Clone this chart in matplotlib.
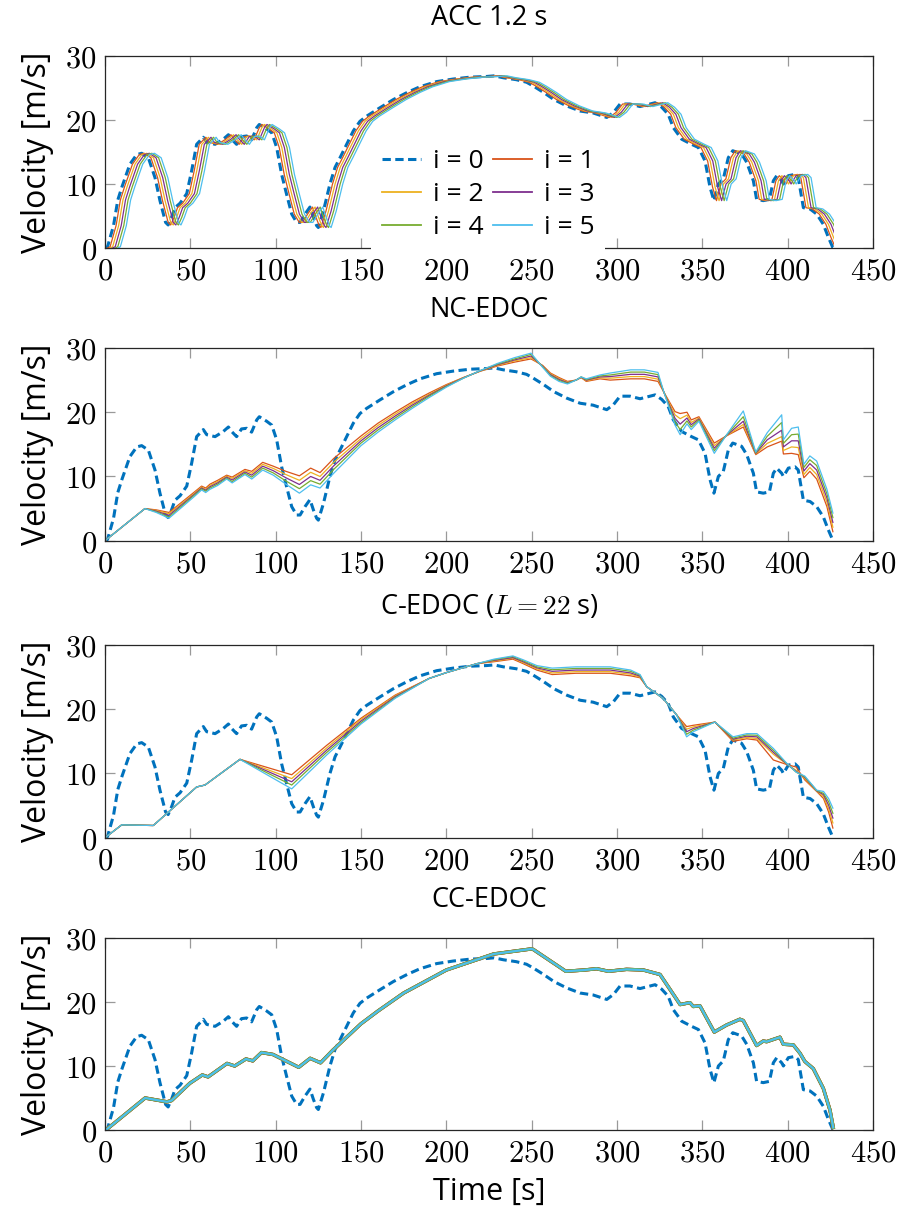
import numpy as np
import matplotlib
matplotlib.use("Agg")
import matplotlib.pyplot as plt
from matplotlib.ticker import FuncFormatter, MultipleLocator
from matplotlib.patches import Rectangle

plt.rcParams['font.family'] = ['Open Sans', 'DejaVu Sans']
plt.rcParams['mathtext.fontset'] = 'cm'
plt.rcParams['lines.scale_dashes'] = False

# ---------------- data ----------------
lead_t = [0, 1.5, 5, 7.5, 10, 14.6, 18.6, 21.5, 25.4, 29.3, 32.2, 35.5, 37, 39, 41, 44,
          47.9, 50.8, 53.7, 57.6, 59.6, 64.5, 69.3, 72.3, 74.2, 77.1, 80, 83, 85.9, 88.9,
          90.4, 94.7, 97.7, 100.6, 103.5, 106.4, 109.4, 112.3, 114.3, 117.2, 120.1, 122.1,
          124, 125, 128, 131.8, 134.8, 137.7, 141.6, 145.5, 149.4, 153.3, 161, 169, 177,
          184.6, 194.3, 204, 214, 223.6, 228, 233.4, 241, 247, 251, 257, 263, 270.5, 278.4,
          286, 294, 298, 301.8, 307.6, 313.5, 322.3, 326.2, 330, 333, 337.9, 343.7, 347.7,
          351.6, 354.5, 356.8, 359.4, 362.3, 365.2, 367.8, 373, 376, 379.9, 381.8, 385.7,
          389.3, 391.6, 393.6, 396.5, 397.5, 400.4, 404.3, 406.2, 409.2, 413.1, 417, 420.9,
          423.8, 426.4, 427]
lead_v = [0, 0.2, 3.5, 7.5, 9.6, 13.1, 14.6, 14.8, 14.1, 11.0, 7.4, 4.0, 3.6, 4.8, 6.3, 7.0,
          8.5, 12.1, 16.2, 17.3, 16.5, 16.2, 17.0, 17.7, 17.0, 16.2, 17.4, 17.5, 16.9, 18.8,
          19.3, 18.6, 18.0, 15.7, 11.5, 8.4, 5.3, 4.0, 4.0, 5.3, 6.4, 4.8,
          3.5, 3.2, 5.8, 10.0, 12.6, 14.1, 16.2, 18.3, 19.8, 20.6, 21.9, 23.2, 24.3,
          25.2, 26.0, 26.4, 26.7, 26.8, 26.9, 26.6, 26.3, 25.9, 25.3, 24.3, 23.2, 22.2, 21.4,
          21.1, 20.4, 21.2, 22.5, 22.5, 22.1, 22.7, 22.0, 20.9, 18.8, 17.0, 16.2, 15.7,
          13.6, 9.5, 7.4, 10.0, 10.8, 14.1, 15.2, 14.7, 13.4, 10.5, 7.6, 7.4,
          7.6, 10.5, 11.3, 10.5, 10.0, 11.3, 11.5, 11.0, 6.3, 6.1, 5.3, 3.7,
          1.7, 0.1, 0.0]

# ACC 1.2 s: followers trail the leader; lag of each follower [s]
acc_lag = [1.5, 3.0, 4.5, 6.0, 7.5]

# NC-EDOC followers
nc_t = [0, 23.4, 30, 37.5, 45, 52, 56.6, 59, 61.5, 66, 71.3, 74.5, 82, 86, 92.4, 98.6, 106,
        113.9, 120.5, 126, 134, 150, 160, 170, 180, 190, 200, 210, 220, 230, 240, 249.6,
        256.4, 261, 266, 271, 276, 279, 282, 290, 296, 308, 316, 324, 327.5, 334, 337, 341,
        343.5, 348, 357, 364, 374, 381.3, 388, 396.5, 397.5, 402.3, 406.2, 409.5, 413, 417,
        423, 426.5]
nc_v1 = [0, 5.0, 4.8, 4.4, 6.0, 7.5, 8.5, 8.2, 8.8, 9.4, 10.2, 9.9, 11.1, 10.8, 12.2, 11.6, 10.8,
         10.1, 11.3, 10.6, 12.8, 16.3, 18.3, 20.0, 21.6, 23.0, 24.3, 25.4, 26.4, 27.2, 27.8, 28.3,
         27.3, 26.1, 25.4, 24.8, 25.0, 25.4, 24.8, 25.2, 25.0, 25.2, 25.2, 24.8, 23.1, 20.1, 19.8, 20.0,
         18.8, 19.3, 15.2, 16.3, 17.7, 13.4, 14.6, 15.5, 13.5, 13.6, 13.4, 9.8, 10.8, 9.6,
         5.3, 1.4]
nc_v2 = [0, 5.0, 4.7, 4.2, 5.8, 7.3, 8.35, 8.0, 8.6, 9.2, 10.05, 9.7, 10.9, 10.5, 11.9, 11.25, 10.3,
         9.4, 10.65, 10.0, 12.2, 15.9, 17.95, 19.7, 21.35, 22.8, 24.2, 25.4, 26.4, 27.3, 28.0, 28.5,
         27.2, 26.0, 25.25, 24.7, 25.0, 25.4, 24.9, 25.35, 25.3, 25.55, 25.55, 25.15, 23.1, 19.6, 19.0, 19.55,
         18.4, 19.1, 14.8, 16.3, 18.1, 13.5, 15.15, 16.2, 14.05, 14.6, 14.5, 10.3, 11.4, 10.3,
         6.0, 2.1]
nc_v3 = [0, 5.0, 4.6, 3.95, 5.6, 7.15, 8.2, 7.85, 8.4, 9.0, 9.9, 9.45, 10.7, 10.2, 11.6, 10.9, 9.8,
         8.75, 10.0, 9.4, 11.65, 15.55, 17.6, 19.4, 21.1, 22.65, 24.1, 25.35, 26.45, 27.4, 28.15, 28.75,
         27.15, 25.85, 25.1, 24.6, 25.0, 25.45, 25.0, 25.5, 25.55, 25.9, 25.9, 25.5, 23.1, 19.05, 18.15, 19.1,
         18.05, 18.95, 14.4, 16.35, 18.6, 13.6, 15.7, 17.2, 14.6, 15.55, 15.55, 10.85, 12.0, 11.0,
         6.65, 2.85]
nc_v4 = [0, 5.0, 4.5, 3.7, 5.4, 7.0, 8.05, 7.7, 8.2, 8.8, 9.75, 9.2, 10.5, 9.9, 11.3, 10.55, 9.3,
         8.1, 9.35, 8.8, 11.1, 15.2, 17.25, 19.1, 20.85, 22.5, 24.0, 25.3, 26.5, 27.5, 28.3, 29.0,
         27.1, 25.7, 24.95, 24.5, 25.0, 25.5, 25.1, 25.65, 25.8, 26.25, 26.25, 25.85, 23.1, 18.5, 17.3, 18.65,
         17.7, 18.8, 14.0, 16.4, 19.3, 13.7, 16.25, 18.4, 15.15, 16.5, 16.6, 11.4, 12.6, 11.7,
         7.3, 3.6]
nc_v5 = [0, 5.0, 4.4, 3.5, 5.2, 6.8, 7.9, 7.5, 8.0, 8.6, 9.6, 9.0, 10.3, 9.6, 11.0, 10.2, 8.8,
         7.4, 8.7, 8.2, 10.5, 14.8, 16.9, 18.8, 20.6, 22.3, 23.9, 25.3, 26.5, 27.6, 28.5, 29.2,
         27.0, 25.6, 24.8, 24.4, 25.0, 25.5, 25.2, 25.8, 26.1, 26.6, 26.6, 26.2, 23.1, 18.0, 16.5, 18.2,
         17.3, 18.6, 13.6, 16.4, 20.2, 13.8, 16.8, 19.6, 15.7, 17.5, 17.7, 11.9, 13.2, 12.4,
         8.0, 4.3]

# C-EDOC (L = 22 s) followers
c_t = [0, 9.8, 28.3, 53.7, 58.6, 79.1, 109.4, 130, 150, 170, 190, 200, 218, 228, 239, 245, 253,
       262, 276, 296, 308, 313.5, 317.4, 327, 335, 340.8, 344.7, 357.4, 368, 376, 382, 391.6,
       399.4, 405, 410, 417, 421, 424, 426.5]
c_v1 = [0, 2.0, 1.9, 7.9, 8.2, 12.2, 9.8, 14.4, 18.6, 22.2, 24.8, 25.7, 27.1, 27.4, 27.8, 27.1, 26.1,
        25.4, 25.6, 25.6, 25.2, 24.9, 23.5, 21.7, 19.1, 17.3, 17.5, 18.0, 15.0, 15.4, 15.2, 12.1,
        11.4, 11.0, 9.0, 7.2, 6.1, 4.0, 1.5]
c_v2 = [0, 2.0, 1.9, 7.9, 8.2, 12.2, 9.2, 14.0, 18.4, 22.1, 24.8, 25.7, 27.1, 27.5, 27.95, 27.25, 26.3,
        25.65, 25.85, 25.85, 25.45, 25.0, 23.5, 21.7, 19.1, 16.9, 17.25, 18.0, 15.2, 15.6, 15.45, 13.0,
        11.45, 10.5, 9.2, 7.25, 6.4, 4.5, 2.3]
c_v3 = [0, 2.0, 1.9, 7.9, 8.2, 12.2, 8.7, 13.65, 18.15, 21.95, 24.8, 25.7, 27.1, 27.6, 28.05, 27.4, 26.45,
        25.9, 26.1, 26.1, 25.65, 25.15, 23.5, 21.7, 19.1, 16.5, 17.0, 18.0, 15.35, 15.8, 15.7, 13.3,
        11.5, 10.3, 9.4, 7.3, 6.7, 5.05, 3.05]
c_v4 = [0, 2.0, 1.9, 7.9, 8.2, 12.2, 8.2, 13.3, 17.9, 21.8, 24.8, 25.7, 27.1, 27.7, 28.2, 27.55, 26.6,
        26.15, 26.35, 26.35, 25.9, 25.3, 23.5, 21.7, 19.1, 16.1, 16.75, 18.0, 15.5, 16.0, 15.95, 13.6,
        11.55, 10.2, 9.5, 7.35, 6.9, 5.6, 3.8]
c_v5 = [0, 2.0, 1.9, 7.9, 8.2, 12.2, 7.6, 12.9, 17.7, 21.7, 24.8, 25.7, 27.1, 27.8, 28.3, 27.7, 26.8,
        26.4, 26.6, 26.6, 26.1, 25.4, 23.5, 21.7, 19.1, 15.7, 16.5, 18.0, 15.7, 16.2, 16.2, 13.9,
        11.6, 10.2, 9.6, 7.4, 7.2, 6.1, 4.6]

# CC-EDOC: all five followers coincide
cc_t = [0, 1, 23.5, 36.3, 39, 49.7, 57, 60.4, 71.5, 76, 82.6, 86.6, 91.7, 98.4, 113.5, 120.2,
        126.3, 133.6, 150, 160, 175, 200, 227.7, 250, 251, 270, 281, 288, 295, 305.6, 315.4,
        325.2, 337, 342.7, 344.7, 348.6, 357, 364.2, 372, 374, 381.8, 385.7, 387.7, 395.5,
        397.4, 403.3, 407.2, 410.1, 415, 420.9, 424.8, 426.7]
cc_v = [0, 0.1, 5.0, 4.4, 4.6, 7.3, 8.6, 8.3, 10.4, 10.0, 11.1, 10.8, 12.1, 11.8, 9.8, 11.2,
        10.5, 12.5, 16.6, 18.6, 21.4, 25.0, 27.5, 28.3, 28.2, 24.8, 25.0, 25.2, 24.8, 25.1, 25.0,
        24.3, 19.6, 19.9, 19.3, 19.4, 15.3, 16.4, 17.3, 17.1, 13.2, 13.9, 13.8, 14.5,
        13.4, 13.3, 12.0, 10.7, 9.6, 6.5, 3.1, 0.4]

titles = ["ACC 1.2 s", "NC-EDOC", r"C-EDOC ($L = 22$ s)", "CC-EDOC"]
labels = ["i = 0", "i = 1", "i = 2", "i = 3", "i = 4", "i = 5"]
colors = ["#0072BD", "#D95319", "#EDB120", "#7E2F8E", "#77AC30", "#4DBEEE"]
t_end = 427

# ---------------- figure ----------------
W, H = 899, 1215
fig = plt.figure(figsize=(W / 100, H / 100), dpi=100)
axes_px = [(56, 248), (348, 540.7), (645, 837.7), (938, 1130)]
L, R = 105, 873

fmt = FuncFormatter(lambda x, p: r"$%g$" % x)

def style(ax, title):
    ax.set_xlim(0, 450)
    ax.set_ylim(0, 30)
    ax.xaxis.set_major_locator(MultipleLocator(50))
    ax.yaxis.set_major_locator(MultipleLocator(10))
    ax.xaxis.set_major_formatter(fmt)
    ax.yaxis.set_major_formatter(fmt)
    ax.tick_params(direction='in', length=7.5, width=0.9, color='#999999',
                   top=True, right=True, labelsize=22, pad=6)
    for s in ax.spines.values():
        s.set_color('#262626')
        s.set_linewidth(0.9)
    ax.set_ylabel("Velocity [m/s]", fontsize=23, labelpad=8)
    ax.set_title(title, fontsize=19.5, pad=22)

def leader(ax):
    return ax.plot(lead_t, lead_v, color=colors[0], lw=2.2, dashes=(6, 3.2),
                   label=labels[0])[0]

axs = []
for k, (top, bot) in enumerate(axes_px):
    ax = fig.add_axes([L / W, 1 - bot / H, (R - L) / W, (bot - top) / H])
    axs.append(ax)

# Panel 1: ACC
ax = axs[0]
handles = [leader(ax)]
clip = Rectangle((0, 0), t_end, 30, transform=ax.transData)
for i, lag in enumerate(acc_lag):
    ln, = ax.plot(np.array(lead_t) + lag, lead_v, color=colors[i + 1], lw=0.9,
                  label=labels[i + 1])
    ln.set_clip_path(clip)
    handles.append(ln)
style(ax, titles[0])
order = [0, 2, 4, 1, 3, 5]  # row-wise filling: (0,1), (2,3), (4,5)
leg = ax.legend([handles[j] for j in order], [labels[j] for j in order],
                ncol=2, loc='lower left', bbox_to_anchor=(0.347, -0.012),
                borderaxespad=0,
                fontsize=19, frameon=True, facecolor='white', edgecolor='none',
                framealpha=1, fancybox=False, handlelength=1.5, handletextpad=0.45,
                columnspacing=0.35, labelspacing=0.3, borderpad=0.38)
for lh in leg.get_lines():
    lh.set_linewidth(1.3)
leg.get_lines()[0].set_linewidth(2.2)

# Panel 2: NC-EDOC
ax = axs[1]
leader(ax)
for i, v in enumerate([nc_v1, nc_v2, nc_v3, nc_v4, nc_v5]):
    ax.plot(nc_t, v, color=colors[i + 1], lw=0.9)
style(ax, titles[1])

# Panel 3: C-EDOC
ax = axs[2]
leader(ax)
for i, v in enumerate([c_v1, c_v2, c_v3, c_v4, c_v5]):
    ax.plot(c_t, v, color=colors[i + 1], lw=0.9)
style(ax, titles[2])

# Panel 4: CC-EDOC
ax = axs[3]
leader(ax)
for i in range(5):
    ax.plot(cc_t, cc_v, color=colors[i + 1], lw=2.4 if i < 4 else 1.6)
style(ax, titles[3])
ax.set_xlabel("Time [s]", fontsize=22, labelpad=6)

fig.savefig("out.png", dpi=100)
